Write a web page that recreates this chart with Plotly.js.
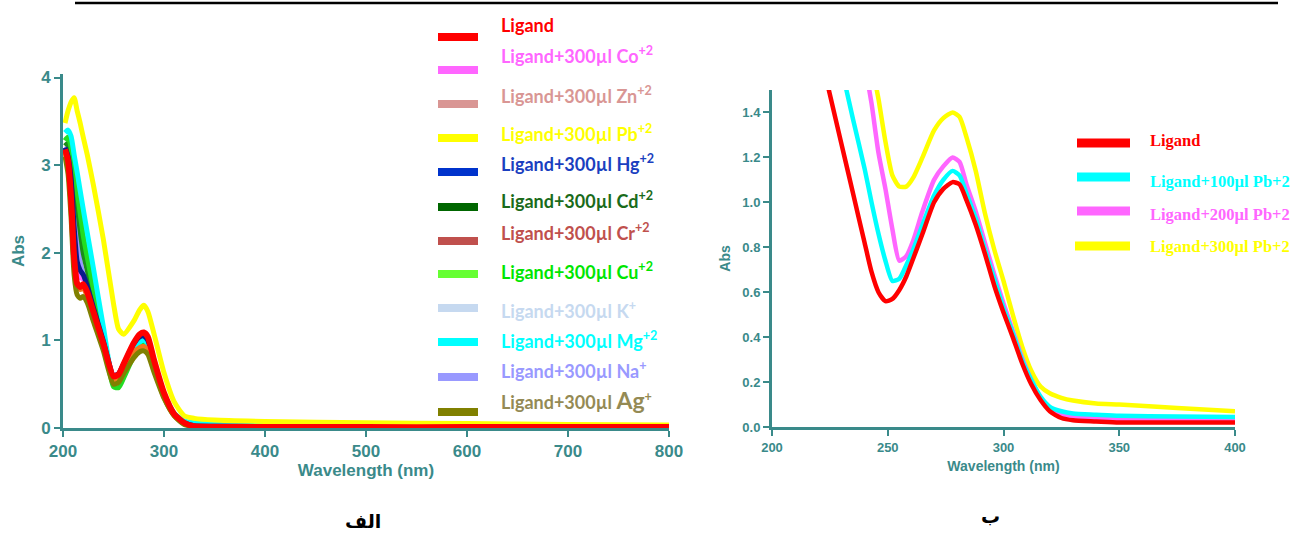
<!DOCTYPE html>
<html>
<head>
<meta charset="utf-8">
<script src="https://cdn.plot.ly/plotly-3.0.1.min.js"></script>
<style>html,body{margin:0;padding:0;background:#fff}#chart{width:1293px;height:534px}</style>
</head>
<body>
<div id="chart"></div>
<script>
// ---------- Panel A (left): UV-Vis spectra, ligand + 300µl metal ions ----------
const WL_A = [202, 205, 208, 211, 214, 217, 220, 224, 230, 240, 250, 255, 260, 270, 276, 280, 284, 290, 300, 310, 320, 330, 350, 400, 500, 600, 700, 800];

const ABS_LIGAND = [3.18, 3.05, 2.62, 1.95, 1.65, 1.61, 1.64, 1.55, 1.33, 0.96, 0.59, 0.61, 0.73, 0.97, 1.07, 1.09, 1.04, 0.78, 0.40, 0.16, 0.06, 0.02, 0.015, 0.012, 0.01, 0.01, 0.01, 0.01];
const ABS_CO = [3.2, 3.1, 2.8, 2.2, 1.8, 1.72, 1.7, 1.6, 1.38, 1.0, 0.6, 0.62, 0.73, 0.95, 1.03, 1.04, 0.99, 0.75, 0.39, 0.16, 0.06, 0.03, 0.02, 0.02, 0.015, 0.015, 0.015, 0.015];
const ABS_ZN = [3.15, 3.0, 2.6, 1.95, 1.65, 1.6, 1.62, 1.53, 1.3, 0.93, 0.55, 0.57, 0.68, 0.90, 0.98, 0.99, 0.95, 0.72, 0.37, 0.15, 0.05, 0.02, 0.015, 0.012, 0.01, 0.01, 0.01, 0.01];
const ABS_PB = [3.48, 3.62, 3.72, 3.77, 3.62, 3.48, 3.32, 3.12, 2.78, 2.15, 1.42, 1.13, 1.07, 1.22, 1.35, 1.40, 1.33, 1.08, 0.63, 0.30, 0.14, 0.11, 0.09, 0.075, 0.06, 0.05, 0.04, 0.035];
const ABS_HG = [3.2, 3.1, 2.85, 2.3, 1.9, 1.8, 1.75, 1.62, 1.38, 0.99, 0.6, 0.62, 0.73, 0.96, 1.04, 1.05, 1.0, 0.76, 0.39, 0.16, 0.06, 0.025, 0.02, 0.015, 0.012, 0.01, 0.01, 0.01];
const ABS_CD = [3.22, 3.25, 3.1, 2.85, 2.55, 2.25, 2.0, 1.8, 1.5, 1.02, 0.55, 0.55, 0.66, 0.90, 0.98, 0.99, 0.95, 0.72, 0.37, 0.15, 0.05, 0.02, 0.015, 0.012, 0.01, 0.01, 0.01, 0.01];
const ABS_CR = [3.15, 3.0, 2.55, 1.9, 1.62, 1.58, 1.6, 1.5, 1.28, 0.92, 0.54, 0.55, 0.66, 0.86, 0.92, 0.93, 0.89, 0.68, 0.35, 0.14, 0.05, 0.02, 0.015, 0.012, 0.01, 0.01, 0.01, 0.01];
const ABS_CU = [3.28, 3.32, 3.2, 2.95, 2.7, 2.45, 2.2, 1.95, 1.6, 1.05, 0.47, 0.46, 0.57, 0.82, 0.93, 0.95, 0.91, 0.70, 0.36, 0.15, 0.05, 0.03, 0.02, 0.015, 0.012, 0.01, 0.01, 0.01];
const ABS_K = [3.2, 3.15, 2.9, 2.45, 2.05, 1.85, 1.75, 1.63, 1.4, 1.0, 0.6, 0.61, 0.72, 0.95, 1.02, 1.03, 0.98, 0.75, 0.39, 0.16, 0.06, 0.03, 0.02, 0.015, 0.012, 0.01, 0.01, 0.01];
const ABS_MG = [3.37, 3.40, 3.33, 3.12, 2.92, 2.71, 2.5, 2.23, 1.83, 1.15, 0.55, 0.56, 0.66, 0.88, 0.98, 1.0, 0.96, 0.74, 0.38, 0.17, 0.08, 0.06, 0.05, 0.04, 0.03, 0.025, 0.02, 0.02];
const ABS_NA = [3.22, 3.2, 3.0, 2.55, 2.2, 1.9, 1.75, 1.62, 1.38, 0.98, 0.58, 0.6, 0.71, 0.94, 1.01, 1.02, 0.97, 0.74, 0.38, 0.16, 0.06, 0.03, 0.02, 0.015, 0.012, 0.01, 0.01, 0.01];
const ABS_AG = [3.1, 2.9, 2.4, 1.75, 1.52, 1.48, 1.5, 1.43, 1.22, 0.88, 0.50, 0.52, 0.62, 0.80, 0.87, 0.88, 0.84, 0.64, 0.34, 0.14, 0.04, 0.02, 0.015, 0.012, 0.01, 0.01, 0.01, 0.01];

const LABELS_A = ["Ligand", "Ligand+300µl Co<sup>+2</sup>", "Ligand+300µl Zn<sup>+2</sup>", "Ligand+300µl Pb<sup>+2</sup>",
  "Ligand+300µl Hg<sup>+2</sup>", "Ligand+300µl Cd<sup>+2</sup>", "Ligand+300µl Cr<sup>+2</sup>", "Ligand+300µl Cu<sup>+2</sup>",
  "Ligand+300µl K<sup>+</sup>", "Ligand+300µl Mg<sup>+2</sup>", "Ligand+300µl Na<sup>+</sup>", "Ligand+300µl <span style=\"font-size:23px\">Ag</span><sup>+</sup>"];
const SERIES_A = [ABS_LIGAND, ABS_CO, ABS_ZN, ABS_PB, ABS_HG, ABS_CD, ABS_CR, ABS_CU, ABS_K, ABS_MG, ABS_NA, ABS_AG];
const SWATCH_A = ["#ff0000", "#ff66ff", "#d99694", "#ffff00", "#0033cc", "#006600", "#c0504d", "#66ff33", "#c6d9f0", "#00ffff", "#9999ff", "#808000"];
const TEXT_A = ["#ff0000", "#ff66ff", "#d99694", "#ffff00", "#1a3fc0", "#1a6b1a", "#c0504d", "#00e600", "#c6d9f0", "#00ffff", "#9999ff", "#948a54"];
const LINE_A = ["#ff0000", "#ff66ff", "#d99694", "#ffff00", "#0a1a8c", "#1a8c1a", "#f07a1e", "#22dd22", "#d6e4f4", "#00ffff", "#9999ff", "#808000"];
const DRAW_ORDER_A = [8, 10, 1, 2, 5, 7, 9, 4, 6, 11, 3, 0];

// ---------- Panel B (right): ligand + increasing Pb+2 ----------
const WL_B = [220, 225, 230, 235, 240, 243, 246, 249, 252, 255, 258, 261, 265, 270, 274, 278, 281, 284, 288, 292, 296, 300, 304, 308, 312, 316, 320, 325, 330, 340, 350, 375, 400];
const B_LIGAND = [1.70, 1.48, 1.26, 1.04, 0.82, 0.69, 0.60, 0.56, 0.57, 0.61, 0.67, 0.75, 0.86, 1.00, 1.06, 1.09, 1.08, 1.01, 0.90, 0.77, 0.63, 0.51, 0.40, 0.285, 0.19, 0.12, 0.07, 0.04, 0.03, 0.025, 0.02, 0.02, 0.02];
const B_PB100 = [2.10, 1.85, 1.60, 1.37, 1.15, 1.00, 0.86, 0.74, 0.65, 0.66, 0.72, 0.79, 0.90, 1.03, 1.10, 1.14, 1.12, 1.04, 0.93, 0.79, 0.66, 0.53, 0.42, 0.30, 0.21, 0.135, 0.09, 0.07, 0.06, 0.055, 0.05, 0.047, 0.045];
const B_PB200 = [2.60, 2.40, 2.15, 1.90, 1.62, 1.44, 1.22, 1.06, 0.88, 0.74, 0.76, 0.83, 0.96, 1.10, 1.16, 1.20, 1.18, 1.08, 0.96, 0.82, 0.68, 0.55, 0.43, 0.31, 0.21, 0.13, 0.08, 0.055, 0.045, 0.04, 0.035, 0.032, 0.03];
const B_PB300 = [3.00, 2.60, 2.30, 2.00, 1.78, 1.62, 1.46, 1.27, 1.12, 1.07, 1.07, 1.11, 1.20, 1.32, 1.375, 1.40, 1.38, 1.29, 1.14, 0.95, 0.79, 0.65, 0.50, 0.36, 0.25, 0.18, 0.15, 0.13, 0.118, 0.105, 0.10, 0.085, 0.07];
const LABELS_B = ["Ligand", "Ligand+100µl Pb+2", "Ligand+200µl Pb+2", "Ligand+300µl Pb+2"];
const SERIES_B = [B_LIGAND, B_PB100, B_PB200, B_PB300];
const COLORS_B = ["#ff0000", "#00ffff", "#ff66ff", "#ffff00"];
const DRAW_ORDER_B = [3, 2, 1, 0];

// ---------- layout geometry (pixels of the 1293x534 page) ----------
const W = 1293, H = 534;
const px = x => x / W, py = y => 1 - y / H;
const TEAL = "#3a8a8a";
const AX_FONT = "'Liberation Sans', Arial, sans-serif";

const traces = [];
DRAW_ORDER_A.forEach(i => traces.push({
  type: "scatter", mode: "lines", x: WL_A, y: SERIES_A[i], name: LABELS_A[i].replace(/<[^>]+>/g, ""),
  xaxis: "x", yaxis: "y", showlegend: false, hoverinfo: "skip",
  line: {color: LINE_A[i], width: i === 0 ? 6 : 5, shape: "spline", smoothing: 0.6}
}));
DRAW_ORDER_B.forEach(i => traces.push({
  type: "scatter", mode: "lines", x: WL_B, y: SERIES_B[i], name: LABELS_B[i],
  xaxis: "x2", yaxis: "y2", showlegend: false, hoverinfo: "skip",
  line: {color: COLORS_B[i], width: 4.5, shape: "spline", smoothing: 0.6}
}));

// legend geometry
const A_TEXT_Y = [25, 55, 95, 133, 163, 200, 232, 271, 310, 340, 370, 400];
const A_SW_Y = [37, 70, 104, 138, 172, 207, 241, 274, 308, 342, 377, 412];
const B_TEXT_Y = [140, 182, 214, 246];
const B_SW_Y = [143, 177, 211, 246];

const shapes = [
  {type: "line", xref: "paper", yref: "paper", x0: px(75), x1: px(1278), y0: py(3), y1: py(3), line: {color: "#000", width: 2.5}}
];
const annotations = [];
SWATCH_A.forEach((c, i) => {
  shapes.push({type: "rect", xref: "paper", yref: "paper", x0: px(438), x1: px(478), y0: py(A_SW_Y[i] + 4), y1: py(A_SW_Y[i] - 4), fillcolor: c, line: {width: 0}});
  annotations.push({xref: "paper", yref: "paper", x: px(499), y: py(A_TEXT_Y[i]), xanchor: "left", yanchor: "middle", showarrow: false,
    text: LABELS_A[i], font: {family: "Lato, 'Open Sans', sans-serif", size: 18, weight: "bold", color: TEXT_A[i]}});
});
COLORS_B.forEach((c, i) => {
  shapes.push({type: "rect", xref: "paper", yref: "paper", x0: px(i === 3 ? 1075 : 1077), x1: px(1130), y0: py(B_SW_Y[i] + 4.5), y1: py(B_SW_Y[i] - 4.5), fillcolor: c, line: {width: 0}});
  annotations.push({xref: "paper", yref: "paper", x: px(1148), y: py(B_TEXT_Y[i]), xanchor: "left", yanchor: "middle", showarrow: false,
    text: LABELS_B[i], font: {family: "'Liberation Serif', serif", size: 16.5, weight: "bold", color: c}});
});
annotations.push({xref: "paper", yref: "paper", x: px(363), y: py(521), xanchor: "center", yanchor: "middle", showarrow: false,
  text: "الف", font: {family: "'DejaVu Sans', sans-serif", size: 19, weight: "bold", color: "#000"}});
annotations.push({xref: "paper", yref: "paper", x: px(990), y: py(516), xanchor: "center", yanchor: "middle", showarrow: false,
  text: "ب", font: {family: "'DejaVu Sans', sans-serif", size: 19, weight: "bold", color: "#000"}});

const axisBase = {
  showline: true, linecolor: TEAL, linewidth: 3, showgrid: false, zeroline: false,
  ticks: "outside", tickcolor: TEAL, ticklen: 6, tickwidth: 2, mirror: false
};
const layout = {
  width: W, height: H, margin: {l: 0, r: 0, t: 0, b: 0},
  paper_bgcolor: "#ffffff", plot_bgcolor: "rgba(0,0,0,0)", showlegend: false,
  xaxis: Object.assign({}, axisBase, {
    domain: [px(63), px(669)], range: [200, 800], dtick: 100, tick0: 200, anchor: "y",
    tickfont: {family: AX_FONT, size: 17, weight: "bold", color: TEAL},
    title: {text: "Wavelength (nm)", standoff: 4, font: {family: AX_FONT, size: 17, weight: "bold", color: TEAL}}
  }),
  yaxis: Object.assign({}, axisBase, {
    domain: [py(428), py(74)], range: [0, 4.04], dtick: 1, tick0: 0, anchor: "x",
    tickfont: {family: AX_FONT, size: 17, weight: "bold", color: TEAL},
    title: {text: "Abs", standoff: 13, font: {family: AX_FONT, size: 17, weight: "bold", color: TEAL}}
  }),
  xaxis2: Object.assign({}, axisBase, {
    domain: [px(772), px(1235)], range: [200, 400], dtick: 50, tick0: 200, anchor: "y2",
    tickfont: {family: AX_FONT, size: 13, weight: "bold", color: TEAL},
    title: {text: "Wavelength (nm)", standoff: 8, font: {family: AX_FONT, size: 14, weight: "bold", color: TEAL}}
  }),
  yaxis2: Object.assign({}, axisBase, {
    domain: [py(427), py(90)], range: [0, 1.5], dtick: 0.2, tick0: 0, tickformat: ".1f", anchor: "x2",
    tickfont: {family: AX_FONT, size: 13, weight: "bold", color: TEAL},
    title: {text: "Abs", standoff: 9, font: {family: AX_FONT, size: 14, weight: "bold", color: TEAL}}
  }),
  shapes: shapes, annotations: annotations
};
Plotly.newPlot("chart", traces, layout, {staticPlot: true, displayModeBar: false});
</script>
</body>
</html>
